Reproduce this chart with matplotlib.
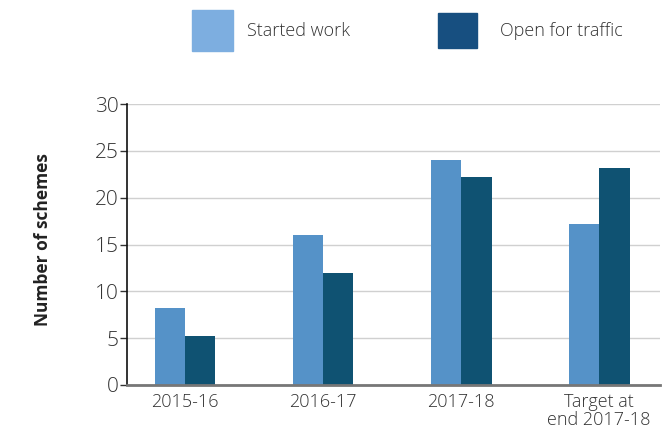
import matplotlib
matplotlib.use("Agg")
import matplotlib.pyplot as plt
from matplotlib.patches import Rectangle
import numpy as np

plt.rcParams['font.family'] = ['Open Sans', 'DejaVu Sans']

categories = ["2015-16", "2016-17", "2017-18", "Target at\nend 2017-18"]
started_work = [8.2, 16, 24, 17.2]
open_for_traffic = [5.2, 12, 22.2, 23.2]

bar_started = "#5592c8"
bar_open = "#0f5272"
legend_started = "#7daee0"
legend_open = "#174f80"

fig = plt.figure(figsize=(6.7, 4.45), dpi=100)
ax = fig.add_axes([127 / 670, 1 - 385 / 445, (660 - 127) / 670, (385 - 104) / 445])

x = np.arange(len(categories))
w = 0.22
ax.bar(x - w / 2, started_work, width=w, color=bar_started, zorder=3)
ax.bar(x + w / 2, open_for_traffic, width=w, color=bar_open, zorder=3)

ax.set_xlim(-0.42, 3.44)
ax.set_ylim(0, 30)
ax.set_yticks(range(0, 31, 5))
ax.yaxis.grid(True, color="#d0d0d0", linewidth=1.0, zorder=0)
ax.set_axisbelow(True)

ax.set_xticks(x)
ax.set_xticklabels(categories, fontsize=13, color="#333333", linespacing=1.0,
                   fontweight="light")
ax.tick_params(axis="x", length=0, pad=6)
ax.tick_params(axis="y", labelsize=15, labelcolor="#333333", length=5,
               width=1, color="#333333", direction="out", pad=1)
for lbl in ax.get_yticklabels():
    lbl.set_fontweight("light")

for s in ["top", "right"]:
    ax.spines[s].set_visible(False)
ax.spines["left"].set_color("#111111")
ax.spines["left"].set_linewidth(1.2)
ax.spines["bottom"].set_color("#777777")
ax.spines["bottom"].set_linewidth(2)
ax.spines["bottom"].set_zorder(4)

fig.text(43 / 670, 1 - 240 / 445, "Number of schemes", rotation=90,
         ha="center", va="center", fontsize=12.5, fontweight="bold", color="#222222")

# legend drawn by hand at the top
fig.patches.append(Rectangle((192 / 670, 1 - 51 / 445), 41 / 670, 41 / 445,
                             transform=fig.transFigure, color=legend_started))
fig.text(247 / 670, 1 - 31 / 445, "Started work", ha="left", va="center",
         fontsize=13, color="#333333", fontweight="light")
fig.patches.append(Rectangle((438 / 670, 1 - 48 / 445), 39 / 670, 35 / 445,
                             transform=fig.transFigure, color=legend_open))
fig.text(500 / 670, 1 - 31 / 445, "Open for traffic", ha="left", va="center",
         fontsize=13, color="#333333", fontweight="light")

fig.savefig("out.png", dpi=100)
